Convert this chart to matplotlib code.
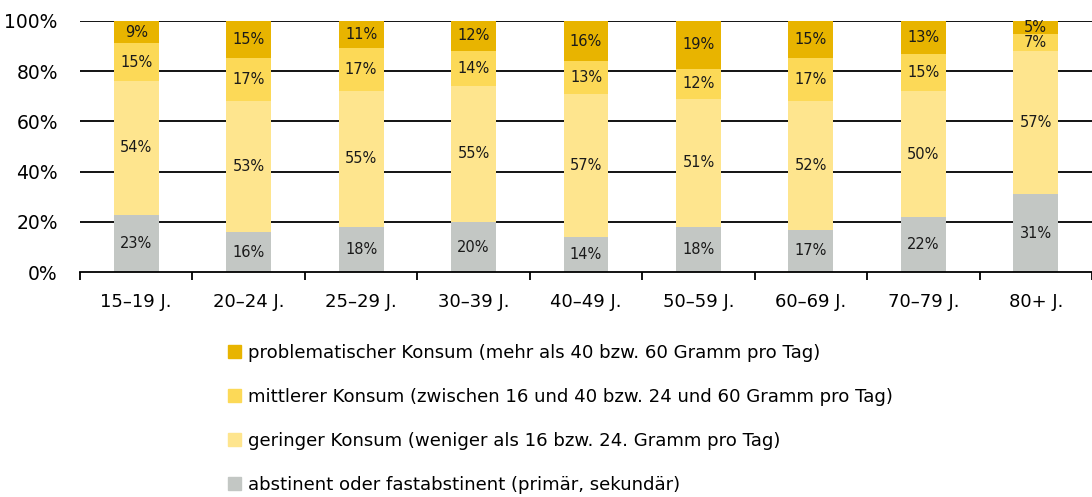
import numpy as np
import matplotlib.pyplot as plt
from matplotlib.patches import Patch

plt.rcParams["font.family"] = ["DejaVu Sans"]

# Altersgruppen und Anteile (%)
categories = ["15–19 J.", "20–24 J.", "25–29 J.", "30–39 J.", "40–49 J.",
              "50–59 J.", "60–69 J.", "70–79 J.", "80+ J."]
abstinent = [23, 16, 18, 20, 14, 18, 17, 22, 31]
gering = [54, 53, 55, 55, 57, 51, 52, 50, 57]
mittel = [15, 17, 17, 14, 13, 12, 17, 15, 7]
problem = [9, 15, 11, 12, 16, 19, 15, 13, 5]

labels = [
    "abstinent oder fastabstinent (primär, sekundär)",
    "geringer Konsum (weniger als 16 bzw. 24. Gramm pro Tag)",
    "mittlerer Konsum (zwischen 16 und 40 bzw. 24 und 60 Gramm pro Tag)",
    "problematischer Konsum (mehr als 40 bzw. 60 Gramm pro Tag)",
]
colors = ["#C3C7C4", "#FEE58E", "#FCD957", "#E8B400"]

series = np.array([abstinent, gering, mittel, problem], dtype=float)
# auf 100 % normieren (Rundungsdifferenzen)
shares = series / series.sum(axis=0) * 100

fig = plt.figure(figsize=(10.92, 4.97), dpi=100)
ax = fig.add_axes([80 / 1092, 1 - 272 / 497, 1 - 80 / 1092, (272 - 21) / 497])

x = np.arange(len(categories))
bottom = np.zeros(len(categories))
for vals, raw, col in zip(shares, series, colors):
    ax.bar(x, vals, bottom=bottom, width=0.4, color=col, zorder=2)
    for xi, b, v, r in zip(x, bottom, vals, raw):
        ax.text(xi, b + v / 2, f"{int(r)}%", ha="center", va="center",
                fontsize=10.5, color="#1a1a1a", zorder=3)
    bottom += vals

ax.set_xlim(-0.5, len(categories) - 0.5)
ax.set_ylim(0, 100)
ax.set_yticks([0, 20, 40, 60, 80, 100])
ax.set_yticklabels([f"{v}%" for v in range(0, 101, 20)], fontsize=13.5)
for v in range(20, 101, 20):
    ax.axhline(v, color="black", lw=1.3, zorder=1)
ax.tick_params(axis="y", length=0, pad=16)

# Kategorien-Beschriftung, Striche zwischen den Gruppen
ax.set_xticks(x)
ax.set_xticklabels(categories, fontsize=13)
ax.set_xticks(np.arange(-0.5, len(categories), 1), minor=True)
ax.tick_params(axis="x", which="major", length=0, pad=15)
ax.tick_params(axis="x", which="minor", length=6, width=1.3, direction="out")

for s in ["top", "right", "left"]:
    ax.spines[s].set_visible(False)
ax.spines["bottom"].set_linewidth(1.3)

handles = [Patch(color=c) for c in colors][::-1]
fig.legend(handles, labels[::-1], loc="upper left",
           bbox_to_anchor=(221 / 1092, 1 - 337 / 497), frameon=False,
           fontsize=13.1, handlelength=0.72, handleheight=0.72,
           handletextpad=0.38, labelspacing=1.43, borderaxespad=0)

fig.savefig("out.png", dpi=100)
